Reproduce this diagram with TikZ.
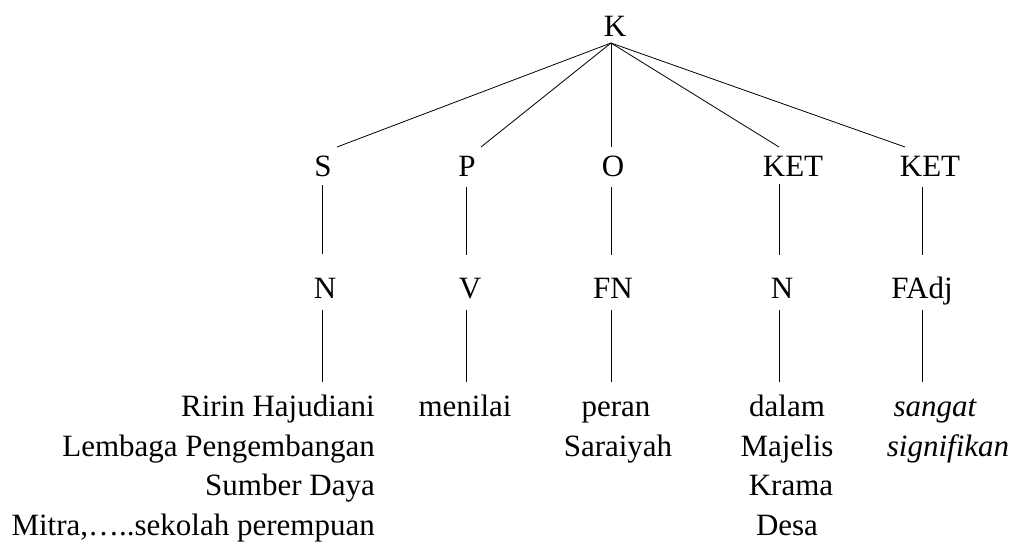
\documentclass[tikz,border=0pt]{standalone}
\usepackage{fontspec}
\setmainfont{Liberation Serif}
\begin{document}
\begin{tikzpicture}[x=1pt,y=-1pt,
  lbl/.style={inner sep=0pt,anchor=base,font=\fontsize{31}{39}\selectfont},
  leafr/.style={inner sep=0pt,anchor=base east,font=\fontsize{31}{39}\selectfont},
  leafi/.style={inner sep=0pt,anchor=base,font=\fontsize{31}{39}\selectfont\itshape},
  branch/.style={line width=0.8pt,black}]
\useasboundingbox (0,0) rectangle (1012,541);

% root and function labels
\node[lbl] (k) at (615,36) {K};
\node[lbl] (s) at (323,176) {S};
\node[lbl] (p) at (467,176) {P};
\node[lbl] (o) at (613,176) {O};
\node[lbl] (ket1) at (793,176) {KET};
\node[lbl] (ket2) at (930,176) {KET};

% category labels
\node[lbl] (n1) at (325,298) {N};
\node[lbl] (v) at (470,298) {V};
\node[lbl] (fn) at (613,298) {FN};
\node[lbl] (n2) at (782,298) {N};
\node[lbl] (fadj) at (922,298) {FAdj};

% words
\node[leafr] (w1a) at (375,416) {Ririn Hajudiani};
\node[leafr] (w1b) at (375,456) {Lembaga Pengembangan};
\node[leafr] (w1c) at (375,495) {Sumber Daya};
\node[leafr] (w1d) at (375,535) {Mitra,…..sekolah perempuan};
\node[lbl] (w2) at (465,416) {menilai};
\node[lbl] (w3a) at (616,416) {peran};
\node[lbl] (w3b) at (618,456) {Saraiyah};
\node[lbl] (w4a) at (787,416) {dalam};
\node[lbl] (w4b) at (787,456) {Majelis};
\node[lbl] (w4c) at (791,495) {Krama};
\node[lbl] (w4d) at (787,535) {Desa};
\node[leafi] (w5a) at (935,416) {sangat};
\node[leafi] (w5b) at (948,456) {signifikan};

% branch end points
\coordinate (apex) at (611,43);
\coordinate (sT) at (337,147);
\coordinate (pT) at (481,147);
\coordinate (oT) at (611,147);
\coordinate (k1T) at (779,147);
\coordinate (k2T) at (905,147);

\coordinate (sA) at (322,185);   \coordinate (sB) at (322,254);
\coordinate (sC) at (322,310);   \coordinate (sD) at (322,382);
\coordinate (pA) at (466,187);   \coordinate (pB) at (466,255);
\coordinate (pC) at (466,310);   \coordinate (pD) at (466,382);
\coordinate (oA) at (611,187);   \coordinate (oB) at (611,255);
\coordinate (oC) at (611,310);   \coordinate (oD) at (611,382);
\coordinate (k1A) at (779,184);  \coordinate (k1B) at (779,255);
\coordinate (k1C) at (779,310);  \coordinate (k1D) at (779,382);
\coordinate (k2A) at (922,187);  \coordinate (k2B) at (922,255);
\coordinate (k2C) at (922,310);  \coordinate (k2D) at (922,382);

% branches from the root
\draw[branch] (apex) -- (sT);
\draw[branch] (apex) -- (pT);
\draw[branch] (apex) -- (oT);
\draw[branch] (apex) -- (k1T);
\draw[branch] (apex) -- (k2T);

% vertical branches
\draw[branch] (sA) -- (sB);  \draw[branch] (sC) -- (sD);
\draw[branch] (pA) -- (pB);  \draw[branch] (pC) -- (pD);
\draw[branch] (oA) -- (oB);  \draw[branch] (oC) -- (oD);
\draw[branch] (k1A) -- (k1B); \draw[branch] (k1C) -- (k1D);
\draw[branch] (k2A) -- (k2B); \draw[branch] (k2C) -- (k2D);
\end{tikzpicture}
\end{document}
